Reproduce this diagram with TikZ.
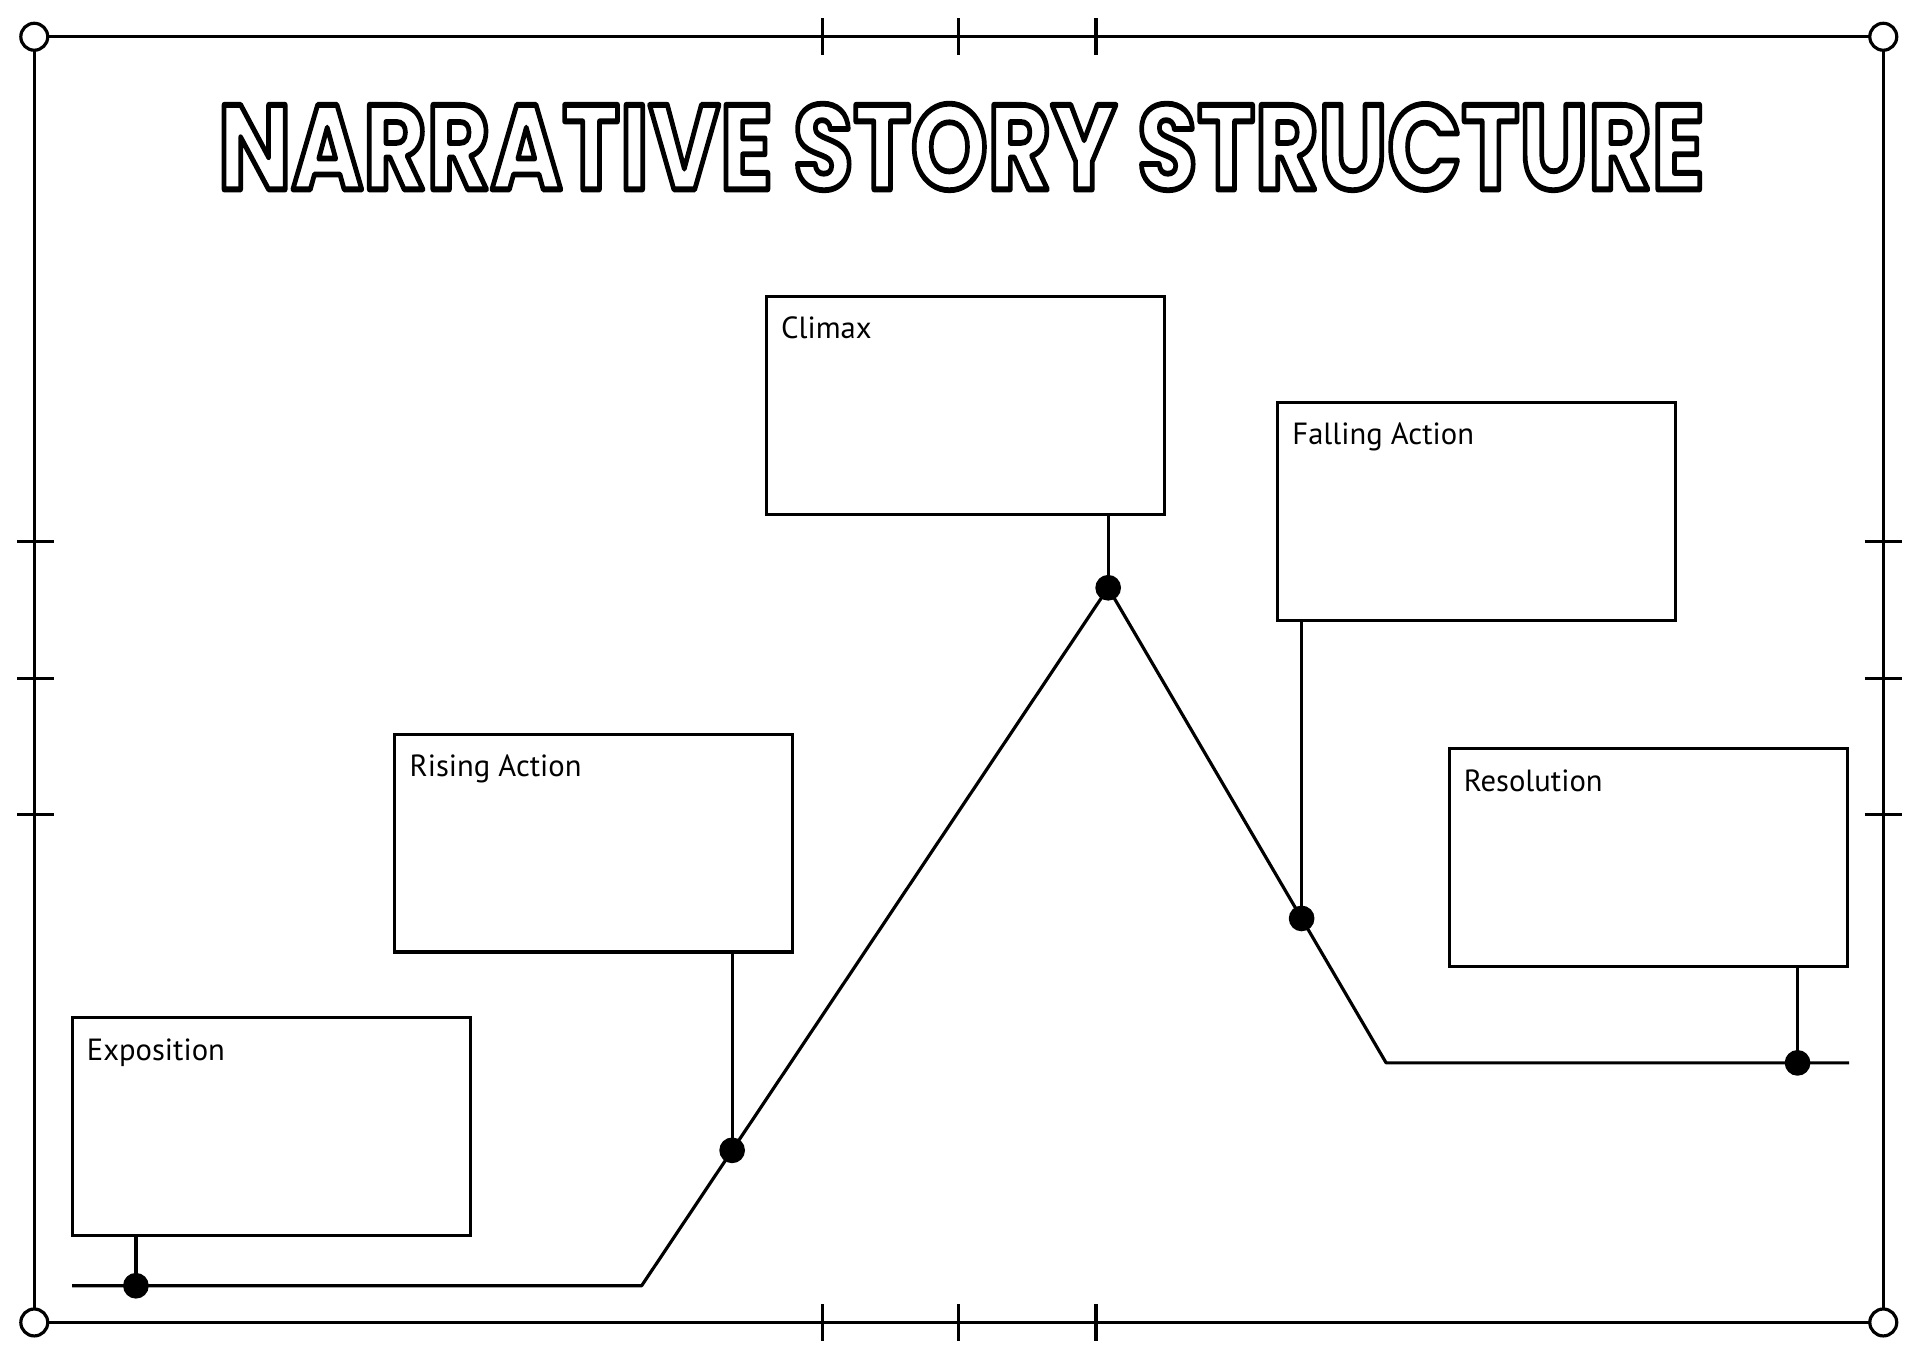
\documentclass[tikz,border=0pt]{standalone}
\usepackage{fontspec}
\setmainfont{PT Sans}
\newfontfamily\titlefont{Poppins}
\usetikzlibrary{positioning,calc}

\tikzset{every picture/.style={line width=1.3pt}}
\tikzset{
  storybox/.style={draw, rectangle, minimum width=162.5pt, minimum height=89pt, inner sep=0pt},
  boxtext/.style={inner sep=0pt, font=\fontsize{12.5}{14}\selectfont},
  plotdot/.style={circle, fill=black, inner sep=0pt, minimum size=10.5pt},
  cornerring/.style={circle, draw, fill=white, inner sep=0pt, minimum size=11pt}
}
% outlined letters for the title
\newcommand{\outlinetext}[1]{\special{pdf:literal direct 1 Tr 2.4 w 1 j}#1\special{pdf:literal direct 0 Tr}}

\begin{document}
\begin{tikzpicture}[x=0.5pt,y=0.5pt,yscale=-1,xscale=1]
\useasboundingbox (0,0) rectangle (1568,1109);

%Frame corners
\coordinate (ctl) at (28,30);
\coordinate (ctr) at (1538,30);
\coordinate (cbl) at (28,1080);
\coordinate (cbr) at (1538,1080);
%Frame lines
\draw (ctl) -- (ctr) -- (cbr) -- (cbl) -- cycle;
%Tick marks
\foreach \tx in {672,783,895}{
  \draw (\tx,15) -- (\tx,45);
  \draw (\tx,1065) -- (\tx,1095);
}
\foreach \ty in {442,554,665}{
  \draw (14,\ty) -- (44,\ty);
  \draw (1523,\ty) -- (1553,\ty);
}
\foreach \c in {ctl,ctr,cbl,cbr}{
  \node[cornerring] at (\c) {};
}

% Title
\node (title) at (785,120) {\resizebox{607pt}{35pt}{\titlefont\bfseries\fontsize{50}{50}\selectfont\outlinetext{NARRATIVE STORY STRUCTURE}}};

%Boxes
\node[storybox] (climax) at (788.5,331) {};
\node[storybox] (falling) at (1206,417.5) {};
\node[storybox] (rising) at (485,688.5) {};
\node[storybox] (resolution) at (1346,700.5) {};
\node[storybox] (exposition) at (221.5,920) {};

% Text Node
\node[boxtext, below right=8.5pt and 6pt of climax.north west] (climaxtext) {Climax};
\node[boxtext, below right=8.5pt and 6pt of falling.north west] (fallingtext) {Falling Action};
\node[boxtext, below right=8.5pt and 6pt of rising.north west] (risingtext) {Rising Action};
\node[boxtext, below right=8.5pt and 6pt of resolution.north west] (resolutiontext) {Resolution};
\node[boxtext, below right=8.5pt and 6pt of exposition.north west] (expositiontext) {Exposition};

%Story line
\coordinate (linestart) at (59,1050);
\coordinate (expopt) at (111,1050);
\coordinate (riseknee) at (524,1050);
\coordinate (peak) at (905,480);
\coordinate (fallknee) at (1132,868);
\coordinate (lineend) at (1510,868);
\coordinate (risept) at ($(riseknee)!0.194!(peak)$);
\coordinate (fallpt) at ($(peak)!0.696!(fallknee)$);
\coordinate (resopt) at (1468,868);
\draw[line join=round] (linestart) -- (riseknee) -- (peak) -- (fallknee) -- (lineend);

%Connectors
\draw (exposition.south -| expopt) -- (expopt);
\draw (rising.south -| risept) -- (risept);
\draw (climax.south -| peak) -- (peak);
\draw (falling.south -| fallpt) -- (fallpt);
\draw (resolution.south -| resopt) -- (resopt);

%Dots
\foreach \p in {expopt,risept,peak,fallpt,resopt}{
  \node[plotdot] at (\p) {};
}

\end{tikzpicture}
\end{document}
